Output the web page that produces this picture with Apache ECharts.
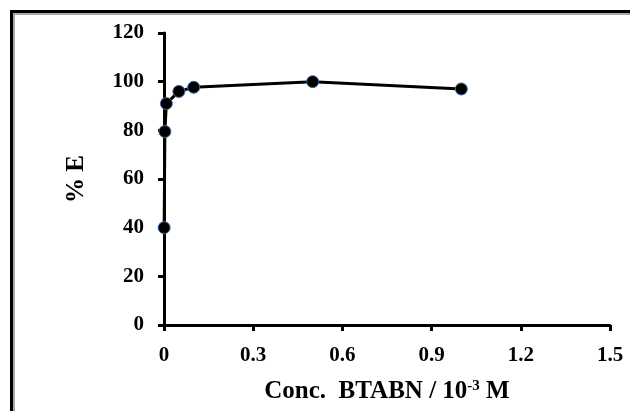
<!DOCTYPE html>
<html>
<head>
<meta charset="utf-8">
<script src="https://cdn.jsdelivr.net/npm/echarts@6/dist/echarts.min.js"></script>
<style>html,body{margin:0;padding:0;background:#fff;}#c{width:630px;height:411px;}</style>
</head>
<body>
<div id="c"></div>
<script>
var concX = [0.0005, 0.003, 0.008, 0.05, 0.1, 0.5, 1.0];
var percentE = [40, 79.5, 91, 96, 97.7, 100, 97];
var xTicks = [0, 0.3, 0.6, 0.9, 1.2, 1.5];
var yTicks = [0, 20, 40, 60, 80, 100, 120];

var chart = echarts.init(document.getElementById('c'), null, {renderer: 'canvas'});
var font = 'Liberation Serif';
chart.setOption({
  animation: false,
  backgroundColor: '#fff',
  graphic: [
    {type: 'rect', shape: {x: 11.5, y: 11.5, width: 700, height: 500}, style: {fill: 'none', stroke: '#000', lineWidth: 3}},
    {type: 'rect', shape: {x: 14, y: 14, width: 700, height: 500}, style: {fill: 'none', stroke: '#a8a8a8', lineWidth: 2}}
  ],
  grid: {left: 164, right: 20, top: 33, bottom: 86},
  xAxis: {
    type: 'value', min: 0, max: 1.5, interval: 0.3,
    axisLine: {lineStyle: {color: '#000', width: 3}},
    axisTick: {show: true, length: 6, lineStyle: {color: '#000', width: 3}},
    splitLine: {show: false},
    axisLabel: {color: '#000', fontFamily: font, fontWeight: 'bold', fontSize: 21, margin: 20,
      formatter: function(v){ return xTicks.indexOf(+v.toFixed(1)) >= 0 ? String(+v.toFixed(1)) : ''; }},
    name: '{a|Conc.  BTABN / 10}{s|-3}{a| M}',
    nameLocation: 'middle', nameGap: 54,
    nameTextStyle: {rich: {
      a: {fontFamily: font, fontWeight: 'bold', fontSize: 25, color: '#000'},
      s: {fontFamily: font, fontWeight: 'bold', fontSize: 15, color: '#000', verticalAlign: 'top', padding: [0,0,10,0]}
    }}
  },
  yAxis: {
    type: 'value', min: 0, max: 120, interval: 20,
    axisLine: {show: true, lineStyle: {color: '#000', width: 3}},
    axisTick: {show: true, length: 6, lineStyle: {color: '#000', width: 3}},
    splitLine: {show: false},
    axisLabel: {color: '#000', fontFamily: font, fontWeight: 'bold', fontSize: 21, margin: 20},
    name: '% E', nameLocation: 'middle', nameGap: 75,
    nameTextStyle: {fontFamily: font, fontWeight: 'bold', fontSize: 25, color: '#000'}
  },
  series: [{
    type: 'line',
    data: concX.map(function(x, i){ return [x, percentE[i]]; }),
    symbol: 'circle', symbolSize: 12,
    lineStyle: {color: '#000', width: 3},
    itemStyle: {color: '#000', borderColor: '#3f6aa8', borderWidth: 1}
  }]
});
</script>
</body>
</html>
